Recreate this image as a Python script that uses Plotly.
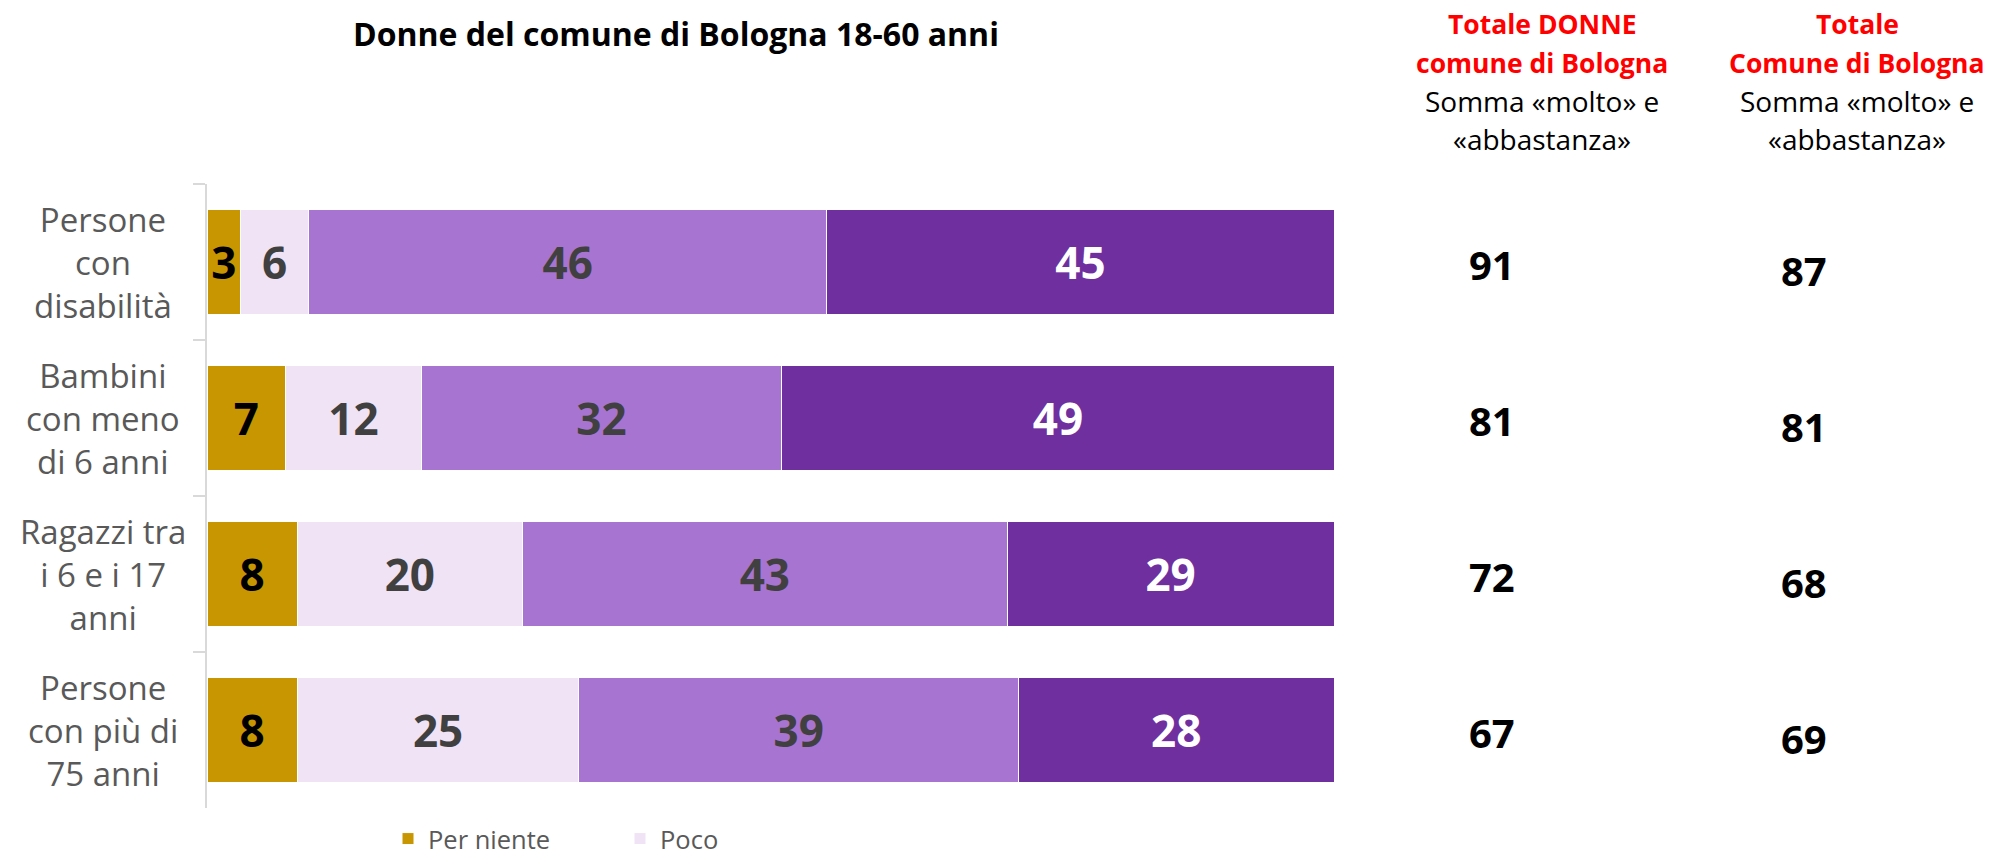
import plotly.graph_objects as go

# ---- data ----
categories = ["Persone con disabilità", "Bambini con meno di 6 anni",
              "Ragazzi tra i 6 e i 17 anni", "Persone con più di 75 anni"]
category_labels = ["Persone<br>con<br>disabilità", "Bambini<br>con meno<br>di 6 anni",
                   "Ragazzi tra<br>i 6 e i 17<br>anni", "Persone<br>con più di<br>75 anni"]
series_names = ["Per niente", "Poco", "Abbastanza", "Molto"]
per_niente = [3, 7, 8, 8]
poco = [6, 12, 20, 25]
abbastanza = [46, 32, 43, 39]
molto = [45, 49, 29, 28]
totale_donne = [91, 81, 72, 67]
totale_comune = [87, 81, 68, 69]
title_text = "Donne del comune di Bologna 18-60 anni"
header_donne = ["Totale DONNE", "comune di Bologna", "Somma «molto» e", "«abbastanza»"]
header_comune = ["Totale", "Comune di Bologna", "Somma «molto» e", "«abbastanza»"]

# ---- style ----
colors = ["#C89600", "#EFE3F5", "#A874D1", "#6F2F9F"]
label_colors = ["#000000", "#404040", "#404040", "#FFFFFF"]
show_in_legend = [True, True, False, False]
FONT = "Open Sans"
W, H = 1989, 861

x0_px, x1_px = 207, 1334
y_top_px, y_bot_px = 184, 808

fig = go.Figure()
values = [per_niente, poco, abbastanza, molto]
for name, vals, col, lcol, sl in zip(series_names, values, colors, label_colors, show_in_legend):
    fig.add_trace(go.Bar(
        y=categories, x=vals, name=name, orientation="h",
        marker=dict(color=col, line=dict(color="white", width=1)),
        text=vals, texttemplate="%{text}", textposition="inside",
        insidetextanchor="middle", constraintext="none",
        textfont=dict(family=FONT, size=44, color=lcol, weight="bold"),
        showlegend=sl, hoverinfo="skip",
    ))

annotations = []
# title
annotations.append(dict(
    xref="paper", yref="paper", x=676 / W, y=1 - 33 / H, xanchor="center", yanchor="middle",
    text="<b>" + title_text + "</b>", showarrow=False,
    font=dict(family=FONT, size=32, color="#000000")))

# category labels (centered, multi-line)
for cat, lab in zip(categories, category_labels):
    annotations.append(dict(
        xref="paper", yref="y", x=103 / W, y=cat, xanchor="center", yanchor="middle",
        text=lab, showarrow=False, align="center",
        font=dict(family=FONT, size=33, color="#595959")))

# right column headers, one annotation per line
line_y = [24, 63, 101, 139]
def header(lines, xc):
    out = []
    for i, (ln, yy) in enumerate(zip(lines, line_y)):
        red = i < 2
        out.append(dict(
            xref="paper", yref="paper", x=xc / W, y=1 - yy / H,
            xanchor="center", yanchor="middle", showarrow=False,
            text=("<b>" + ln + "</b>") if red else ln,
            font=dict(family=FONT, size=26.5 if red else 28,
                      color="#FF0000" if red else "#000000")))
    return out

annotations += header(header_donne, 1542)
annotations += header(header_comune, 1857)

for cat, v in zip(categories, totale_donne):
    annotations.append(dict(
        xref="paper", yref="y", x=1492 / W, y=cat, xanchor="center", yanchor="middle",
        yshift=-2, text="<b>%d</b>" % v, showarrow=False,
        font=dict(family=FONT, size=40, color="#000000")))
for cat, v in zip(categories, totale_comune):
    annotations.append(dict(
        xref="paper", yref="y", x=1804 / W, y=cat, xanchor="center", yanchor="middle",
        yshift=-8, text="<b>%d</b>" % v, showarrow=False,
        font=dict(family=FONT, size=40, color="#000000")))

fig.update_layout(
    width=W, height=H, barmode="stack", bargap=0.327,
    margin=dict(l=0, r=0, t=0, b=0, autoexpand=False),
    paper_bgcolor="white", plot_bgcolor="white",
    font=dict(family=FONT),
    xaxis=dict(domain=[x0_px / W, x1_px / W], range=[0, 100], visible=False, fixedrange=True),
    yaxis=dict(domain=[1 - y_bot_px / H, 1 - y_top_px / H],
               categoryorder="array", categoryarray=categories, autorange="reversed",
               showticklabels=False, showline=True, linecolor="#D9D9D9", linewidth=2,
               ticks="outside", tickson="boundaries", ticklen=12, tickcolor="#D9D9D9",
               tickwidth=2, showgrid=False, zeroline=False, fixedrange=True),
    legend=dict(orientation="h", x=388 / W, y=1 - 839 / H, xanchor="left", yanchor="middle",
                font=dict(family=FONT, size=25.5, color="#595959"),
                entrywidth=187, entrywidthmode="pixels", bgcolor="rgba(0,0,0,0)",
                traceorder="normal"),
    annotations=annotations,
    showlegend=True,
)

fig.write_html("out.html", config={"displayModeBar": False},
               post_script="document.body.style.margin='0';document.body.style.padding='0';")
